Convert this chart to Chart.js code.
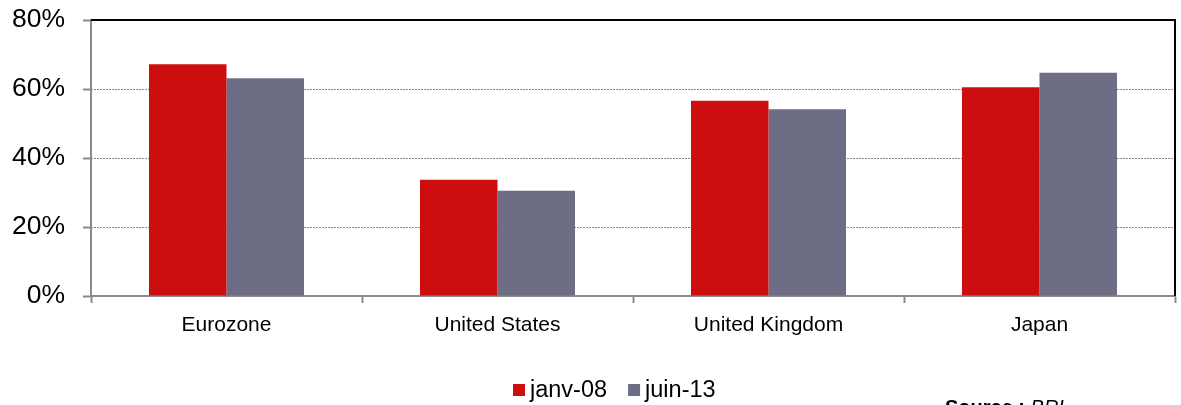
<!DOCTYPE html>
<html>
<head>
<meta charset="utf-8">
<script src="https://cdn.jsdelivr.net/npm/chart.js@4/dist/chart.umd.min.js"></script>
<style>
  html, body { margin: 0; padding: 0; background: #fff; }
  #wrap { width: 1181px; height: 405px; position: relative; }
</style>
</head>
<body>
<div id="wrap"><canvas id="c" width="1181" height="405"></canvas></div>
<script>
// Categories and series (share of total, %)
const categories = ['Eurozone', 'United States', 'United Kingdom', 'Japan'];
const seriesLabels = ['janv-08', 'juin-13'];
const janv08 = [67.2, 33.7, 56.6, 60.5];
const juin13 = [63.1, 30.5, 54.1, 64.7];
const yTicks = [0, 20, 40, 60, 80];
const sourceLabel = 'Source : ';
const sourceName = 'BRI';

const RED = '#CD0E0E';
const GREY = '#6D6E86';
const FONT = "'Liberation Sans', Arial, sans-serif";

// Dotted grid lines, frame (top/right) and custom legend + source note
const decor = {
  id: 'decor',
  beforeDatasetsDraw(chart) {
    const { ctx, chartArea: a, scales: { y } } = chart;
    ctx.save();
    ctx.strokeStyle = '#8a8a8a';
    ctx.lineWidth = 1;
    ctx.setLineDash([2, 1]);
    yTicks.forEach(v => {
      if (v === 0 || v === 80) return;
      const py = Math.round(y.getPixelForValue(v)) + 0.5;
      ctx.beginPath();
      ctx.moveTo(a.left, py);
      ctx.lineTo(a.right, py);
      ctx.stroke();
    });
    ctx.restore();
  },
  afterDraw(chart) {
    const { ctx, chartArea: a, scales: { y } } = chart;
    ctx.save();
    // black frame top and right
    ctx.strokeStyle = '#000';
    ctx.lineWidth = 2;
    const top = y.getPixelForValue(80);
    ctx.beginPath();
    ctx.moveTo(a.left, top);
    ctx.lineTo(a.right, top);
    ctx.lineTo(a.right, a.bottom);
    ctx.stroke();

    // legend
    const items = chart.data.datasets.map(d => ({ label: d.label, color: d.backgroundColor }));
    ctx.font = '23.5px ' + FONT;
    ctx.textBaseline = 'alphabetic';
    let x = 513;
    const boxTop = 384, boxSize = 12, base = 397;
    items.forEach(it => {
      ctx.fillStyle = it.color;
      ctx.fillRect(x, boxTop, boxSize, boxSize);
      ctx.fillStyle = '#000';
      ctx.fillText(it.label, x + boxSize + 5, base);
      x += boxSize + 5 + ctx.measureText(it.label).width + 21;
    });

    // source note
    ctx.font = 'bold 20px ' + FONT;
    ctx.fillText(sourceLabel, 945, 414);
    const w = ctx.measureText(sourceLabel).width;
    ctx.font = 'italic 20px ' + FONT;
    ctx.fillText(sourceName, 945 + w, 414);
    ctx.restore();
  }
};

new Chart(document.getElementById('c'), {
  type: 'bar',
  data: {
    labels: categories,
    datasets: [
      { label: seriesLabels[0], data: janv08, backgroundColor: RED },
      { label: seriesLabels[1], data: juin13, backgroundColor: GREY }
    ]
  },
  options: {
    responsive: false,
    animation: false,
    events: [],
    layout: { padding: { left: 0, right: 6, top: 20, bottom: 0 } },
    plugins: { legend: { display: false }, tooltip: { enabled: false } },
    datasets: { bar: { categoryPercentage: 0.572, barPercentage: 1.0 } },
    scales: {
      x: {
        afterFit(s) { s.height = 109; s.paddingLeft = 0; s.paddingRight = 0; },
        grid: { display: true, drawOnChartArea: false, drawTicks: true, tickLength: 7, tickColor: '#8a8a8a', tickWidth: 2, offset: true },
        border: { display: true, color: '#8a8a8a', width: 2 },
        ticks: { color: '#000', font: { family: FONT, size: 21 }, padding: 10, maxRotation: 0 }
      },
      y: {
        min: 0, max: 80,
        afterFit(s) { s.width = 91; s.paddingTop = 0; s.paddingBottom = 0; },
        afterBuildTicks(s) { s.ticks = yTicks.map(v => ({ value: v })); },
        grid: { display: true, drawOnChartArea: false, drawTicks: true, tickLength: 8, tickColor: '#8a8a8a', tickWidth: 2 },
        border: { display: true, color: '#8a8a8a', width: 2 },
        ticks: { color: '#000', font: { family: FONT, size: 26.5 }, padding: 18, callback: v => v + '%' }
      }
    }
  },
  plugins: [decor]
});
</script>
</body>
</html>
